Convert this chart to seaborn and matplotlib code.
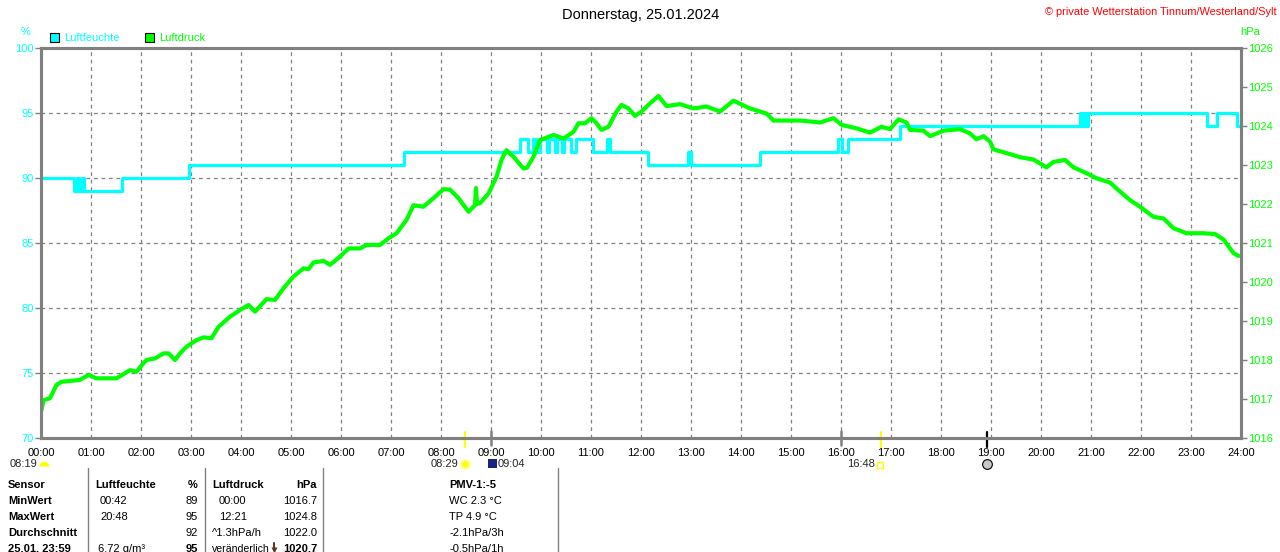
import numpy as np
import pandas as pd
import matplotlib
matplotlib.use("Agg")
import matplotlib.pyplot as plt
import seaborn as sns
from matplotlib.transforms import blended_transform_factory

# ---------------- data ----------------
hum_t = [0.00, 0.66, 0.72, 0.76, 0.82, 0.86, 1.61, 2.96, 7.26,
         9.58, 9.74, 9.84, 9.90, 9.98, 10.12, 10.15, 10.28, 10.31, 10.42, 10.45,
         10.60, 10.70, 11.04, 11.32, 11.37, 12.14, 12.94, 12.99, 14.38,
         15.94, 16.02, 16.14, 17.18, 20.78, 20.82, 20.86, 20.90, 20.94,
         23.32, 23.52, 23.92, 24.00]
hum_v = [90, 89, 90, 89, 90, 89, 90, 91, 92,
         93, 92, 93, 92, 93, 92, 93, 92, 93, 92, 93,
         92, 93, 92, 93, 92, 91, 92, 91, 92,
         93, 92, 93, 94, 95, 94, 95, 94, 95,
         94, 95, 94, 94]

pres_t = [0.00, 0.05, 0.18, 0.31, 0.41, 0.78, 0.95, 1.11, 1.51, 1.78, 1.91, 2.05, 2.11,
          2.28, 2.45, 2.55, 2.68, 2.78, 2.91, 3.11, 3.25, 3.41, 3.55, 3.78, 3.98, 4.15,
          4.28, 4.51, 4.68, 4.85, 5.05, 5.25, 5.35, 5.45, 5.65, 5.78, 5.98, 6.15, 6.38,
          6.51, 6.78, 6.95, 7.11, 7.31, 7.45, 7.65, 7.85, 8.05, 8.18, 8.35, 8.55, 8.68,
          8.70, 8.72, 8.78, 8.95, 9.11, 9.21, 9.31, 9.45, 9.65, 9.72, 9.85, 9.98, 10.25,
          10.45, 10.65, 10.75, 10.88, 11.01, 11.11, 11.21, 11.35, 11.51, 11.61, 11.75,
          11.88, 12.01, 12.18, 12.35, 12.51, 12.78, 13.05, 13.31, 13.58, 13.85, 14.18,
          14.51, 14.65, 15.18, 15.58, 15.85, 16.01, 16.31, 16.58, 16.81, 16.98, 17.15,
          17.31, 17.38, 17.65, 17.78, 18.05, 18.38, 18.58, 18.71, 18.85, 18.98, 19.05,
          19.38, 19.58, 19.85, 20.11, 20.25, 20.48, 20.65, 20.91, 21.11, 21.38, 21.58,
          21.78, 21.98, 22.25, 22.45, 22.65, 22.91, 23.25, 23.48, 23.65, 23.85, 23.95]
pres_v = [1016.67, 1016.97, 1017.02, 1017.36, 1017.44, 1017.49, 1017.62, 1017.53, 1017.53,
          1017.74, 1017.70, 1017.92, 1018.00, 1018.04, 1018.17, 1018.17, 1018.00, 1018.17,
          1018.34, 1018.51, 1018.58, 1018.56, 1018.85, 1019.11, 1019.28, 1019.41, 1019.24,
          1019.56, 1019.54, 1019.84, 1020.14, 1020.35, 1020.33, 1020.50, 1020.54, 1020.44,
          1020.65, 1020.86, 1020.86, 1020.95, 1020.95, 1021.12, 1021.25, 1021.59, 1021.97,
          1021.93, 1022.15, 1022.38, 1022.37, 1022.15, 1021.80, 1021.97, 1022.41, 1022.00,
          1022.02, 1022.27, 1022.70, 1023.13, 1023.38, 1023.21, 1022.91, 1022.93, 1023.21,
          1023.64, 1023.77, 1023.68, 1023.85, 1024.07, 1024.07, 1024.20, 1024.07, 1023.90,
          1023.98, 1024.37, 1024.54, 1024.45, 1024.26, 1024.37, 1024.58, 1024.77, 1024.51,
          1024.56, 1024.45, 1024.50, 1024.37, 1024.65, 1024.45, 1024.32, 1024.14, 1024.14,
          1024.09, 1024.20, 1024.03, 1023.94, 1023.83, 1023.98, 1023.92, 1024.17, 1024.09,
          1023.90, 1023.88, 1023.74, 1023.88, 1023.92, 1023.81, 1023.66, 1023.74, 1023.60,
          1023.40, 1023.28, 1023.20, 1023.14, 1022.94, 1023.08, 1023.13, 1022.94, 1022.79,
          1022.66, 1022.55, 1022.32, 1022.10, 1021.93, 1021.67, 1021.63, 1021.38, 1021.25,
          1021.25, 1021.23, 1021.09, 1020.74, 1020.67]

hours = list(range(25))
hour_labels = [f"{h:02d}:00" for h in hours]
hum_ticks = [70, 75, 80, 85, 90, 95, 100]
pres_ticks = list(range(1016, 1027))

title = "Donnerstag, 25.01.2024"
copyright_txt = "\u00a9 private Wetterstation Tinnum/Westerland/Sylt"

# event ticks on the time axis (hours)
sun_events = [8 + 29 / 60, 16 + 48 / 60]
moon_events = [18.92]
mark_events = [9.0, 16.0]

table_rows = [
    ["Sensor", "Luftfeuchte", "%", "Luftdruck", "hPa", "PMV-1:-5"],
    ["MinWert", "00:42", "89", "00:00", "1016.7", "WC 2.3 \u00b0C"],
    ["MaxWert", "20:48", "95", "12:21", "1024.8", "TP 4.9 \u00b0C"],
    ["Durchschnitt", "", "92", "^1.3hPa/h", "1022.0", "-2.1hPa/3h"],
    ["25.01. 23:59", "6.72 g/m\u00b3", "95", "ver\u00e4nderlich", "1020.7", "-0.5hPa/1h"],
]

# ---------------- style ----------------
sns.set_style("white")
plt.rcParams["font.family"] = ["Liberation Sans", "DejaVu Sans"]

CYAN = "#00ffff"
GREEN = "#00ff00"
GRAY = "#808080"

W, H = 1280, 552
fig = plt.figure(figsize=(W / 100, H / 100), dpi=100)
fig.patch.set_facecolor("white")


def fx(px):
    return px / W


def fy(py):
    return 1 - py / H


ax = fig.add_axes([fx(41), fy(438), 1200 / W, 390 / H])
ax2 = ax.twinx()

hum_df = pd.DataFrame({"t": hum_t, "v": hum_v})
pres_df = pd.DataFrame({"t": pres_t, "v": pres_v})

sns.lineplot(data=hum_df, x="t", y="v", ax=ax, color=CYAN, lw=2.3,
             drawstyle="steps-post", estimator=None, sort=False, legend=False)
sns.lineplot(data=pres_df, x="t", y="v", ax=ax2, color=GREEN, lw=3.0,
             estimator=None, sort=False, legend=False)

ax.set_xlim(0, 24)
ax.set_ylim(70, 100)
ax2.set_ylim(1016, 1026)
for a in (ax, ax2):
    a.set_xlabel("")
    a.set_ylabel("")

ax.set_xticks(hours)
ax.set_xticklabels(hour_labels)
ax.set_yticks(hum_ticks)
ax2.set_yticks(pres_ticks)

ax.grid(True, ls=(0, (3, 3)), color=GRAY, lw=0.9)
ax2.grid(False)

for a in (ax, ax2):
    for s in a.spines.values():
        s.set_color(GRAY)
        s.set_linewidth(2.2)

ax.tick_params(axis="x", direction="out", length=3, width=1, color=GRAY,
               labelsize=8, labelcolor="black", pad=4)
ax.tick_params(axis="y", direction="out", length=4, width=1, color=GRAY,
               labelsize=8, labelcolor=CYAN, pad=1)
ax2.tick_params(axis="y", direction="out", length=4, width=1, color=GRAY,
                labelsize=8, labelcolor=GREEN, pad=1)

# event ticks crossing the bottom axis
tr = blended_transform_factory(ax.transData, fig.transFigure)
for t in sun_events:
    ax.plot([t, t], [fy(432), fy(447)], color="#ffff00", lw=1.6, transform=tr, clip_on=False, zorder=5)
for t in moon_events:
    ax.plot([t, t], [fy(432), fy(447)], color="black", lw=1.6, transform=tr, clip_on=False, zorder=5)
for t in mark_events:
    ax.plot([t, t], [fy(431), fy(445)], color=GRAY, lw=1.8, transform=tr, clip_on=False, zorder=4)

# ---------------- texts ----------------
fig.text(fx(641), fy(15), title, ha="center", va="center", fontsize=10.5, color="black")
fig.text(fx(1277), fy(12), copyright_txt, ha="right", va="center", fontsize=7.9, color="#ff0000")
fig.text(fx(26), fy(32), "%", ha="center", va="center", fontsize=8, color=CYAN)
fig.text(fx(1250), fy(32), "hPa", ha="center", va="center", fontsize=8, color=GREEN)

# legend
for x0, col, lab in [(50, CYAN, "Luftfeuchte"), (145, GREEN, "Luftdruck")]:
    fig.patches.append(matplotlib.patches.Rectangle((fx(x0), fy(42)), 9 / W, 9 / H,
                                                    transform=fig.transFigure, facecolor=col,
                                                    edgecolor="black", lw=0.8))
    fig.text(fx(x0 + 14), fy(38), lab, ha="left", va="center", fontsize=8, color=col)

# event labels below axis
fig.text(fx(10), fy(464), "08:19", ha="left", va="center", fontsize=8)
ax.plot([fx(44)], [fy(466)], marker="o", ms=7, mfc="#ffff00", mec="none", fillstyle="top",
        markerfacecoloralt="none", transform=fig.transFigure, clip_on=False)
fig.text(fx(431), fy(464), "08:29", ha="left", va="center", fontsize=8)
ax.plot([fx(465)], [fy(464)], marker="o", ms=6, mfc="#ffff00", mec="#ffff80", mew=1.5,
        transform=fig.transFigure, clip_on=False)
fig.patches.append(matplotlib.patches.Rectangle((fx(488), fy(468)), 9 / W, 9 / H,
                                                transform=fig.transFigure, facecolor="#1a237e",
                                                edgecolor="none"))
ax.plot([fx(492)], [fy(462)], marker="v", ms=4, mfc="#ffff00", mec="none",
        transform=fig.transFigure, clip_on=False)
fig.text(fx(498), fy(464), "09:04", ha="left", va="center", fontsize=8)
fig.text(fx(847), fy(464), "16:48", ha="left", va="center", fontsize=8)
ax.plot([fx(880)], [fy(465)], marker="s", ms=4, mfc="none", mec="#ffff00", mew=1,
        transform=fig.transFigure, clip_on=False)
ax.plot([fx(987)], [fy(464)], marker="o", ms=7, mfc="#c8c8c8", mec="black", mew=0.8,
        transform=fig.transFigure, clip_on=False)

# ---------------- table ----------------
for xv in [88, 205, 323, 558]:
    fig.add_artist(matplotlib.lines.Line2D([fx(xv), fx(xv)], [fy(468), fy(552)],
                                           color=GRAY, lw=1, transform=fig.transFigure))

row_y = [485, 501, 517, 533, 549]
col_spec = [(8, "left"), (100, "left"), (198, "right"), (219, "left"), (317, "right"), (449, "left")]
for r, (yy, row) in enumerate(zip(row_y, table_rows)):
    for c, (txt, (xx, ha)) in enumerate(zip(row, col_spec)):
        if r == 0 and c in (1, 3):
            xx = 95 if c == 1 else 212
        if r >= 3 and c == 3:
            xx = 212
        if r == 4 and c == 1:
            xx = 98
        bold = (r == 0) or (c == 0) or (r == 4 and c in (2, 4))
        fs = 7.6 if (r == 4 and c == 3) else 8
        fig.text(fx(xx), fy(yy), txt, ha=ha, va="center", fontsize=fs,
                 fontweight="bold" if bold else "normal", color="black")

# trend arrow icon in last row (drawn as a marker)
ax.plot([fx(274), fx(274)], [fy(543), fy(550)], color="#5a3a1a", lw=1.5,
        transform=fig.transFigure, clip_on=False)
ax.plot([fx(274)], [fy(550)], marker="v", ms=4, mfc="#5a3a1a", mec="none",
        transform=fig.transFigure, clip_on=False)

fig.savefig("out.png", dpi=100, facecolor="white")
